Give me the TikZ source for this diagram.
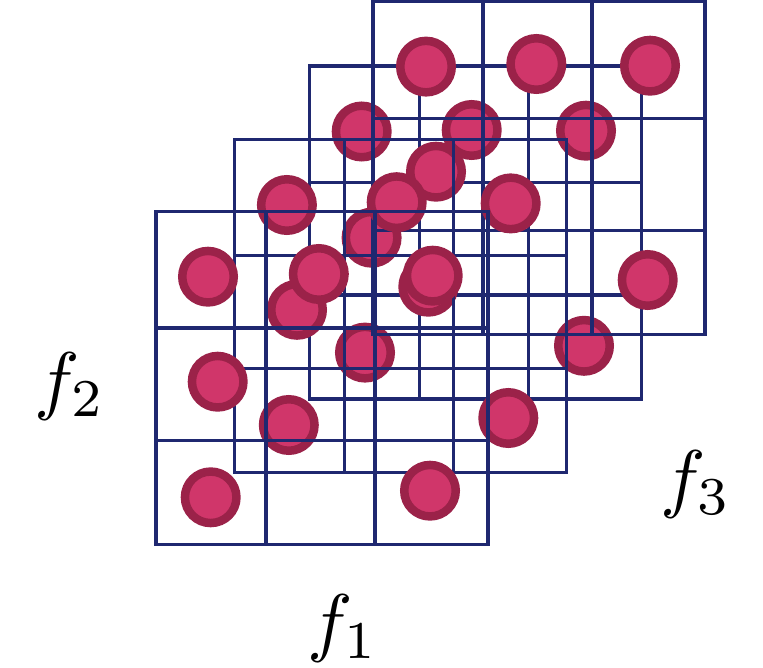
\documentclass[tikz,border=0pt]{standalone}
\definecolor{navy}{RGB}{31,40,112}
\definecolor{pinkfill}{RGB}{208,54,106}
\definecolor{pinkring}{RGB}{155,34,73}
\tikzset{
  gridline/.style={draw=navy, line width=3.3pt, line join=miter, line cap=rect},
  dot/.style={circle, draw=pinkring, fill=pinkfill, line width=8.5pt, minimum size=51.5pt, inner sep=0pt},
  lab/.style={inner sep=0pt, scale=7.6, anchor=base west},
  mesh/.pic={
    \draw[gridline] (0,0) rectangle (332,333);
    \draw[gridline] (110,0) -- (110,333);
    \draw[gridline] (219,0) -- (219,333);
    \draw[gridline] (0,116.5) -- (332,116.5);
    \draw[gridline] (0,229) -- (332,229);
  }
}
\begin{document}
\begin{tikzpicture}[x=1pt, y=-1pt]
\useasboundingbox (0,0) rectangle (763,668);
% layer 3
\pic at (309.3,66) {mesh};
\node[dot] (c4) at (361.7,131.5) {};
\node[dot] (c5) at (471.7,130) {};
\node[dot] (c6) at (586,130.7) {};
\node[dot] (c11) at (371.6,237.7) {};
\node[dot] (c18) at (365,352.6) {};
\node[dot] (c19) at (584,345.8) {};
% layer 4
\pic at (373,1.8) {mesh};
\node[dot] (c1) at (426,66.6) {};
\node[dot] (c2) at (536.3,64) {};
\node[dot] (c3) at (650,65.7) {};
\node[dot] (c7) at (436,171.7) {};
\node[dot] (c16) at (428.3,286.7) {};
\node[dot] (c17) at (647.7,280) {};
% layer 2
\pic at (234.3,139.3) {mesh};
\node[dot] (c8) at (286.9,205) {};
\node[dot] (c9) at (396.7,202.2) {};
\node[dot] (c10) at (510.7,203.4) {};
\node[dot] (c14) at (297,309.8) {};
\node[dot] (c21) at (288.8,425) {};
\node[dot] (c22) at (508.3,418) {};
% layer 1
\pic at (156,211.5) {mesh};
\node[dot] (c12) at (208,276.7) {};
\node[dot] (c13) at (318.8,274) {};
\node[dot] (c15) at (432.7,275.7) {};
\node[dot] (c20) at (217.7,381.7) {};
\node[dot] (c23) at (210.7,497.3) {};
\node[dot] (c24) at (430,490.7) {};
% labels
\node[lab] (f2) at (33,405) {$f_2$};
\node[lab] (f1) at (306,647) {$f_1$};
\node[lab] (f3) at (659,503) {$f_3$};
\end{tikzpicture}
\end{document}
